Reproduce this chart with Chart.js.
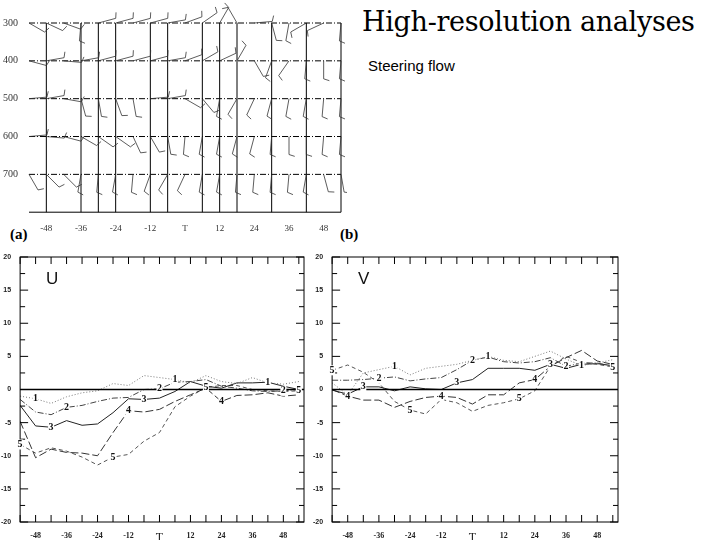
<!DOCTYPE html>
<html><head><meta charset="utf-8">
<script src="https://cdn.jsdelivr.net/npm/chart.js@4"></script>
<style>
body{margin:0;width:720px;height:540px;background:#fff;position:relative;overflow:hidden;font-family:"Liberation Sans",Arial,sans-serif}
.c{position:absolute}
#title{position:absolute;left:362px;top:6px;font-family:"DejaVu Serif",serif;font-size:27px;color:#000;letter-spacing:-0.3px}
#sub{position:absolute;left:368px;top:57px;font-size:15px;color:#000}
.pl{position:absolute;font-family:"Liberation Serif",serif;font-weight:bold;font-size:15px}
</style></head><body>
<div id="title">High-resolution analyses</div>
<div id="sub">Steering flow</div>
<div class="pl" style="left:10px;top:226px">(a)</div>
<div class="pl" style="left:340px;top:226px">(b)</div>
<div class="c" style="left:0;top:0;width:347px;height:237px"><canvas id="top"></canvas></div>
<div class="c" style="left:0;top:244px;width:312px;height:296px"><canvas id="ca"></canvas></div>
<div class="c" style="left:312px;top:244px;width:314px;height:296px"><canvas id="cb"></canvas></div>
<script>
const times=[-54,-48,-42,-36,-30,-24,-18,-12,-6,0,6,12,18,24,30,36,42,48,54];
const levels=[300,400,500,600,700];
const barb300=[30,25,20,95,-15,-15,-15,-15,-10,-20,-35,-60,-120,-5,75,100,150,155,95];
const barb400=[15,-10,5,-10,-15,-15,-15,-15,-10,-20,-30,-25,-60,60,110,125,95,90,95];
const barb500=[-5,-10,10,75,80,70,80,-5,-10,30,50,100,120,115,105,100,100,95,95];
const barb600=[-5,5,15,30,35,35,65,60,80,95,100,100,105,105,95,90,90,95,95];
const barb700=[60,45,45,100,95,100,95,110,120,115,100,100,95,95,95,95,100,75,80];
const gridTimes=[-48,-36,-30,-24,-12,-6,6,12,18,30,42,54];
const xTickLabels={'-48':'-48','-36':'-36','-24':'-24','-12':'-12','0':'T','12':'12','24':'24','36':'36','48':'48'};
const U1=[-1.0,-1.4,-2.1,-1.1,-0.5,-0.2,0.9,0.6,2.1,1.8,1.5,1.0,2.1,1.2,0.9,1.8,1.0,0.8,1.2];
const U2=[-1.5,-3.4,-3.8,-2.7,-2.4,-1.8,-1.3,-1.2,0.0,0.1,1.1,1.2,1.5,0.5,0.2,-0.2,-0.3,-0.2,0.0];
const U3=[-2.4,-5.5,-5.7,-4.7,-5.4,-5.2,-3.5,-1.4,-1.5,-1.3,-0.3,1.2,0.5,0.2,1.0,1.0,1.1,0.5,0.0];
const U4=[-4.8,-10.3,-9.0,-9.5,-9.6,-10.0,-6.5,-3.2,-3.4,-3.0,-1.8,-0.8,0.2,-1.8,-0.9,-0.8,-0.5,-1.0,-0.8];
const U5=[-8.3,-9.6,-8.8,-9.3,-10.2,-11.4,-10.2,-9.8,-7.8,-6.5,-2.6,-1.0,0.3,0.6,0.6,0.0,-0.2,-0.3,-0.2];
const V1=[1.0,-0.8,2.5,3.0,3.5,2.2,3.2,3.5,3.8,4.4,5.0,4.4,4.2,5.0,5.8,4.6,3.6,4.0,4.5];
const V2=[1.4,1.4,1.5,1.7,1.9,1.3,1.6,1.8,3.0,4.4,4.9,4.2,4.0,4.2,4.8,3.5,4.0,4.0,3.5];
const V3=[-0.1,-0.7,0.4,0.4,-0.2,0.4,0.1,0.0,1.0,1.5,3.2,3.2,3.2,2.9,3.8,3.2,3.8,3.9,3.6];
const V4=[0.0,-1.0,-1.6,-1.6,-2.7,-1.8,-1.2,-1.0,-1.2,-2.2,-0.8,-0.8,1.0,1.5,3.5,4.8,5.9,4.3,3.8];
const V5=[2.9,3.7,2.6,1.0,-1.8,-3.1,-3.7,-1.5,-2.0,-3.3,-2.4,-2.0,-1.4,-0.2,3.5,5.0,4.1,3.8,3.4];
const labelIdxU=[[1,10,16],[3,9,17],[2,8],[7,13],[0,6,12,18]];
const labelIdxV=[[4,10,16],[3,9,15],[2,8,14],[1,7,13],[0,5,12,18]];
const dashes=[[1,2],[6,2,1,2],[],[8,3],[4,3]];
const colors=['#777','#444','#222','#333','#555'];

const fmtX=v=>xTickLabels[String(v)]??'';

const barbs=[barb300,barb400,barb500,barb600,barb700];
const barbPlugin={id:'barbs',afterDatasetsDraw(ch){
  const c=ch.ctx,x=ch.scales.x,y=ch.scales.y,a=ch.chartArea;
  c.save();c.strokeStyle='#000';c.lineWidth=1;
  c.beginPath();c.moveTo(a.left,a.bottom);c.lineTo(a.right,a.bottom);c.stroke();
  gridTimes.forEach(t=>{const px=x.getPixelForValue(t);c.beginPath();c.moveTo(px,y.getPixelForValue(300));c.lineTo(px,a.bottom);c.stroke();});
  c.setLineDash([6,2,1,2]);
  levels.forEach(l=>{const py=y.getPixelForValue(l);c.beginPath();c.moveTo(a.left,py);c.lineTo(a.right,py);c.stroke();});
  c.setLineDash([]);c.lineWidth=0.8;c.strokeStyle='#333';
  ch.data.datasets.forEach((ds,i)=>{ds.data.forEach((p,j)=>{
    const px=x.getPixelForValue(p.x),py=y.getPixelForValue(p.y);
    const ang=barbs[i][j]*Math.PI/180,L=18;
    const ex=px+L*Math.cos(ang),ey=py+L*Math.sin(ang);
    c.beginPath();c.moveTo(px,py);c.lineTo(ex,ey);
    const b=ang-Math.PI/2*0.8;c.lineTo(ex+6*Math.cos(b),ey+6*Math.sin(b));c.stroke();
  });});
  c.restore();}};
new Chart(document.getElementById('top'),{type:'scatter',
 data:{datasets:levels.map(l=>({data:times.map(t=>({x:t,y:l})),pointRadius:0}))},
 options:{responsive:true,maintainAspectRatio:false,animation:false,events:[],
  layout:{padding:{top:23,right:6}},
  plugins:{legend:{display:false},tooltip:{enabled:false}},
  scales:{x:{type:'linear',min:-54,max:54,afterBuildTicks:s=>{s.ticks=[-48,-36,-24,-12,0,12,24,36,48].map(v=>({value:v}))},
    ticks:{callback:fmtX,color:'#333',font:{size:9,family:'Liberation Serif'},maxRotation:0,autoSkip:false},
    grid:{display:false},border:{display:false}},
   y:{type:'linear',reverse:true,min:300,max:800,afterBuildTicks:s=>{s.ticks=levels.map(v=>({value:v}))},
    ticks:{color:'#333',font:{size:10,family:'Liberation Serif'}},grid:{display:false},border:{display:false}}}},
 plugins:[barbPlugin]});

const tickPlugin={id:'inticks',afterDraw(ch){
  const c=ch.ctx,x=ch.scales.x,y=ch.scales.y,a=ch.chartArea;
  c.save();c.strokeStyle='#000';c.lineWidth=1;
  c.strokeRect(a.left,a.top,a.right-a.left,a.bottom-a.top);
  for(let t=-54;t<=54;t+=6){const px=x.getPixelForValue(t);
    c.beginPath();c.moveTo(px,a.top);c.lineTo(px,a.top+7);c.moveTo(px,a.bottom);c.lineTo(px,a.bottom-7);c.stroke();}
  for(let v=-20;v<=20;v+=2.5){const py=y.getPixelForValue(v),L=v%5===0?8:5;
    c.beginPath();c.moveTo(a.left,py);c.lineTo(a.left+L,py);c.moveTo(a.right,py);c.lineTo(a.right-L,py);c.stroke();}
  c.lineWidth=1.3;const p0=y.getPixelForValue(0);c.beginPath();c.moveTo(a.left,p0);c.lineTo(a.right,p0);c.stroke();
  c.font='bold 10px "Liberation Serif"';c.fillStyle='#111';c.textAlign='center';c.textBaseline='middle';
  const idx=ch.options.plugins.lineLabels.idx;
  ch.data.datasets.forEach((ds,i)=>idx[i].forEach(j=>{
    const px=x.getPixelForValue(ds.data[j].x),py=y.getPixelForValue(ds.data[j].y);
    c.fillStyle='#fff';c.fillRect(px-3,py-5,6,10);c.fillStyle='#111';c.fillText(String(i+1),px,py);}));
  c.font='17px "Liberation Sans"';c.textAlign='left';c.fillText(ch.options.plugins.lineLabels.name,a.left+26,a.top+22);
  c.restore();}};
function panel(id,series,idx,name){
 new Chart(document.getElementById(id),{type:'line',
  data:{datasets:series.map((s,i)=>({data:times.map((t,j)=>({x:t,y:s[j]})),borderColor:colors[i],borderDash:dashes[i],borderWidth:1,pointRadius:0,tension:0}))},
  options:{responsive:true,maintainAspectRatio:false,animation:false,events:[],
   layout:{padding:{top:13,right:8}},
   plugins:{legend:{display:false},tooltip:{enabled:false},lineLabels:{idx,name}},
   scales:{x:{type:'linear',min:-54,max:56,afterBuildTicks:s=>{s.ticks=[-48,-36,-24,-12,0,12,24,36,48].map(v=>({value:v}))},
     afterFit:s=>{s.height=18},
     ticks:{callback:fmtX,color:'#222',font:c=>({size:c.tick&&c.tick.value===0?12:8,weight:c.tick&&c.tick.value===0?'normal':'bold',family:'Liberation Serif'}),maxRotation:0,autoSkip:false,padding:1},
     grid:{display:false},border:{display:false}},
    y:{min:-20,max:20,afterBuildTicks:s=>{s.ticks=[-20,-15,-10,-5,0,5,10,15,20].map(v=>({value:v}))},
     ticks:{color:'#222',font:{size:7,weight:'bold'},padding:1},grid:{display:false},border:{display:false}}}},
  plugins:[tickPlugin]});}
panel('ca',[U1,U2,U3,U4,U5],labelIdxU,'U');
panel('cb',[V1,V2,V3,V4,V5],labelIdxV,'V');
</script></body></html>
